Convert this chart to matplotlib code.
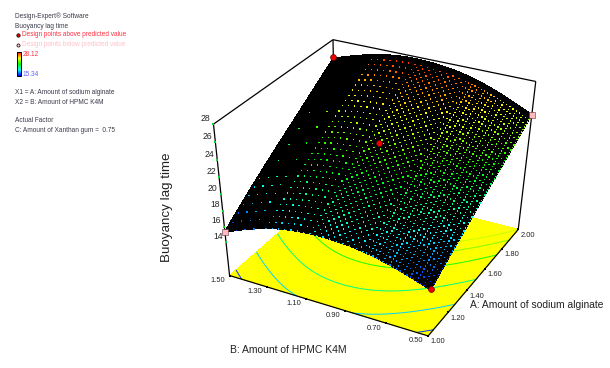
import numpy as np
import matplotlib
matplotlib.use('Agg')
import matplotlib.pyplot as plt
import matplotlib.tri as mtri
from matplotlib.colors import LinearSegmentedColormap, ListedColormap, Normalize

plt.rcParams['font.family'] = ['Liberation Sans', 'DejaVu Sans']

# response surface (rows = A, columns = B)
amount_a = [1.00, 1.25, 1.50, 1.75, 2.00]
amount_b = [0.50, 0.75, 1.00, 1.25, 1.50]
lag_time = [
    [15.5, 17.5, 18.2, 17.5, 15.34],
    [17.8, 19.9, 20.7, 20.1, 18.2],
    [20.0, 22.2, 23.1, 22.6, 20.8],
    [22.1, 24.4, 25.4, 25.0, 23.3],
    [24.2, 26.6, 27.7, 27.4, 25.8],
]

# design points
above_a = [2.00, 1.00, 1.50]
above_b = [1.50, 0.50, 1.00]
above_z = [26.0, 15.6, 23.4]
below_a = [1.00, 2.00]
below_b = [1.50, 0.50]
below_z = [15.34, 24.2]

a_ticks = [1.00, 1.20, 1.40, 1.60, 1.80, 2.00]
b_ticks = [1.50, 1.30, 1.10, 0.90, 0.70, 0.50]
z_ticks = [14, 16, 18, 20, 22, 24, 26, 28]
contour_levels = [16, 18, 20, 22, 23.3, 24.2]
z_min, z_max = 15.34, 28.12
floor_z = 9.6
top_z = 28

legend_lines = [
    ('Design-Expert® Software', 15, 16, '#3a3a4a'),
    ('Buoyancy lag time', 15, 26, '#3a3a4a'),
    ('Design points above predicted value', 22, 35, '#ff3040'),
    ('Design points below predicted value', 22, 45, '#ffc0c8'),
    ('X1 = A: Amount of sodium alginate', 15, 93, '#3a3a4a'),
    ('X2 = B: Amount of HPMC K4M', 15, 102, '#3a3a4a'),
    ('Actual Factor', 15, 121, '#3a3a4a'),
    ('C: Amount of Xanthan gum =  0.75', 15, 131, '#3a3a4a'),
]

cmap = LinearSegmentedColormap.from_list(
    'surf', ['#0000ff', '#00ffff', '#00ff00', '#ffff00', '#ff0000'])
norm = Normalize(z_min, z_max)

# box corners in the picture, used to fit the camera
cam_world = [(1, 1.5, floor_z), (1, .5, floor_z), (2, .5, floor_z), (2, 1.5, floor_z),
             (1, 1.5, top_z), (2, 1.5, top_z), (2, .5, top_z), (1, 1.5, 14)]
cam_pix = [(231, 276), (428, 337), (519, 228), (334, 184),
           (212, 125), (335, 39), (535, 82), (226, 240)]


def fit_camera(world, pix):
    rows = []
    for (a, b, c), (u, v) in zip(world, pix):
        p = [a, b, c, 1]
        rows.append(p + [0, 0, 0, 0] + [-u * q for q in p])
        rows.append([0, 0, 0, 0] + p + [-v * q for q in p])
    return np.linalg.svd(np.array(rows, float))[2][-1].reshape(3, 4)


cam = fit_camera(cam_world, cam_pix)


def project(a, b, c):
    a, b, c = np.asarray(a, float), np.asarray(b, float), np.asarray(c, float)
    w = cam[2, 0] * a + cam[2, 1] * b + cam[2, 2] * c + cam[2, 3]
    u = (cam[0, 0] * a + cam[0, 1] * b + cam[0, 2] * c + cam[0, 3]) / w
    v = (cam[1, 0] * a + cam[1, 1] * b + cam[1, 2] * c + cam[1, 3]) / w
    return u, v


def line3d(ax, p, q, **kw):
    u, v = project([p[0], q[0]], [p[1], q[1]], [p[2], q[2]])
    ax.plot(u, v, color='black', lw=0.9, solid_capstyle='butt', **kw)


fig = plt.figure(figsize=(6.1, 3.68), dpi=100)
ax = fig.add_axes([0, 0, 1, 1])

# library mesh refinement of the table, only to get the fine dot mesh
aa, bb = np.meshgrid(amount_a, amount_b, indexing='ij')
tri = mtri.Triangulation(aa.ravel(), bb.ravel())
fine, fine_z = mtri.UniformTriRefiner(tri).refine_field(
    np.array(lag_time).ravel(), mtri.CubicTriInterpolator(tri, np.array(lag_time).ravel()), subdiv=4)

# floor
fu, fv = project(fine.x, fine.y, np.full_like(fine.x, floor_z))
cu, cv = project([1, 1, 2, 2], [1.5, .5, .5, 1.5], [floor_z] * 4)
ax.fill(cu, cv, color='#ffff00', lw=0, zorder=1, antialiased=False)
ax.tricontour(fu, fv, fine.triangles, fine_z, levels=contour_levels, cmap=cmap, norm=norm,
              linewidths=0.7, zorder=2)

# box
for p, q in [((1, 1.5, floor_z), (1, .5, floor_z)), ((1, .5, floor_z), (2, .5, floor_z)),
             ((1, 1.5, floor_z), (1, 1.5, top_z)), ((2, .5, floor_z), (2, .5, top_z)),
             ((1, 1.5, top_z), (2, 1.5, top_z)), ((2, 1.5, top_z), (2, .5, top_z)),
             ((2, 1.5, floor_z), (2, 1.5, top_z))]:
    line3d(ax, p, q, zorder=3)

# surface
su, sv = project(fine.x, fine.y, fine_z)
ax.tripcolor(su, sv, fine.triangles, np.zeros(len(su)), cmap=ListedColormap(['black']),
             shading='flat', antialiased=False, zorder=4, edgecolors='black', linewidth=0.3)

# dots fade out towards the far left of the surface, as in the original render
i = np.rint((fine.x - 1.0) * 64).astype(int)
j = np.rint((fine.y - 0.5) * 64).astype(int)
show = ((i % 2 == 0) | (j % 2 == 0)) & (fine.y < 0.8) & (i < 63)
show |= ((i + j) % 2 == 0) & (fine.y >= 0.8) & (fine.y < 1.05) & (i < 63)
show |= (i % 2 == 0) & (j % 2 == 0) & (fine.y >= 1.05) & (fine.y < 1.3) & (i < 63)
show |= (i % 3 == 0) & (j % 3 == 0) & (fine.y >= 1.3) & (fine.x < 1.3)
show |= (i % 6 == 0) & (j % 6 == 0) & (fine.y >= 1.3) & (fine.x >= 1.3) & (fine.x < 1.75)
dots = ax.scatter(su[show], sv[show], c=fine_z[show], cmap=cmap, norm=norm, s=1.0, marker='s',
                  linewidths=0, zorder=5)

# design points
u, v = project(above_a, above_b, above_z)
ax.scatter(u, v, s=18, c='#ee0000', edgecolors='#660000', linewidths=0.5, zorder=7)
u, v = project(below_a, below_b, below_z)
ax.scatter(u, v, s=16, c='#ffb8c0', marker='s', edgecolors='#663333', linewidths=0.4, zorder=7)

# ticks and labels
for t in z_ticks:
    u, v = project(1, 1.5, t)
    ax.plot(u, v, 's', color='#00dd22', ms=1.6, mew=0, zorder=6)
    ax.text(u - 8, v - 6, str(t), fontsize=6.2, ha='center', va='center', color='#222222')
for t in a_ticks:
    u, v = project(t, .5, floor_z)
    ax.plot(u, v, 's', color='black', ms=1.5, mew=0, zorder=6)
    ax.text(u + 10, v + 6, '%.2f' % t, fontsize=5.4, ha='center', va='center', color='#222222')
for t in b_ticks:
    u, v = project(1, t, floor_z)
    ax.plot(u, v, 's', color='black', ms=1.5, mew=0, zorder=6)
    ax.text(u - 12, v + 5, '%.2f' % t, fontsize=5.4, ha='center', va='center', color='#222222')

ax.text(167, 207, 'Buoyancy lag time', rotation=90, fontsize=9.6, ha='center', va='center', color='#222222')
ax.text(230, 350, 'B: Amount of HPMC K4M', fontsize=7.5, ha='left', va='center', color='#222222')
ax.text(470, 305, 'A: Amount of sodium alginate', fontsize=7.4, ha='left', va='center', color='#222222')

# legend block
for text, x, y, col in legend_lines:
    ax.text(x, y, text, fontsize=4.7, ha='left', va='center', color=col)
ax.scatter([18], [35], s=6, c='#dd0000', edgecolors='black', linewidths=0.5)
ax.scatter([18], [45], s=5, c='#ffc0c8', edgecolors='black', linewidths=0.5)
ax.imshow(np.linspace(1, 0, 64).reshape(-1, 1), cmap=cmap, extent=[17, 21, 76, 52], aspect='auto', zorder=2)
ax.plot([17, 21, 21, 17, 17], [52, 52, 76, 76, 52], color='black', lw=0.7)
ax.text(23, 54, '%.2f' % z_max, fontsize=4.7, color='#ff3040', va='center')
ax.text(23, 74, '%.2f' % z_min, fontsize=4.7, color='#6060ff', va='center')

ax.set_xlim(0, 610)
ax.set_ylim(368, 0)
ax.axis('off')
fig.savefig('out.png', dpi=100)
